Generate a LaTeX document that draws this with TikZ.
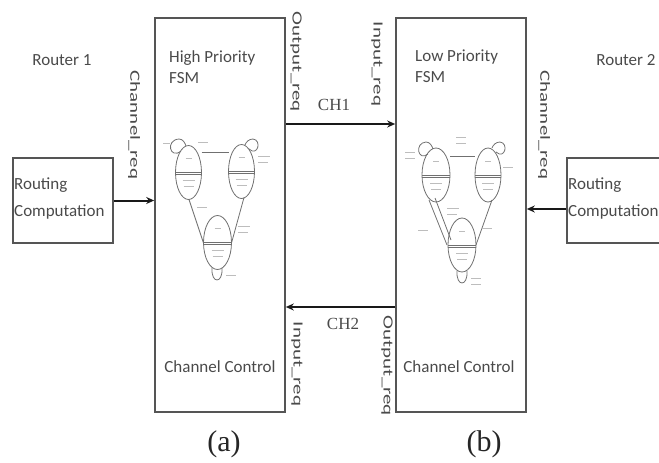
\documentclass[tikz,border=0pt]{standalone}
\usepackage{fontspec}
\setmainfont{Carlito}
\newfontfamily\tms{Liberation Serif}
\usetikzlibrary{arrows.meta,calc}
\definecolor{txt}{HTML}{4A4A4A}
\definecolor{frame}{HTML}{555555}
\definecolor{fsm}{HTML}{707070}
\definecolor{tiny}{HTML}{BDBDBD}
\tikzset{
  boxnode/.style={draw=frame,line width=1.6pt,rectangle,inner sep=0pt},
  arr/.style={line width=2pt,black!90,-{Stealth[length=8pt,width=7pt]}},
  lbl/.style={text=txt,font=\fontsize{17}{21}\selectfont,inner sep=0pt},
  rlbl/.style={text=txt,font=\fontsize{14}{16}\selectfont,inner sep=0pt,rotate=-90},
  chl/.style={text=txt,font=\tms\fontsize{17}{20}\selectfont,inner sep=0pt},
  captxt/.style={text=black!85,font=\tms\fontsize{30}{34}\selectfont,inner sep=0pt},
  fsmline/.style={draw=fsm,line width=0.8pt},
  tinyline/.style={draw=tiny,line width=1pt},
}
\newcommand\mystate[3]{% center x, center y, rx
  \draw[fsmline] (#1,#2) ellipse [x radius=#3, y radius=27];
  \draw[fsmline] (#1-#3,#2) -- (#1+#3,#2);
  \draw[fsmline] (#1-#3+0.3,#2+2) -- (#1+#3-0.3,#2+2);
  \draw[tinyline] (#1-3,#2-14) -- (#1+3,#2-14);
  \draw[tinyline] (#1-6,#2+8) -- (#1+6,#2+8);
  \draw[tinyline] (#1-5,#2+14) -- (#1+5,#2+14);
}
\begin{document}
\begin{tikzpicture}[x=1pt,y=-1pt]
\useasboundingbox (0,0) rectangle (659,463);
\clip (0,0) rectangle (659,463);
% main boxes
\node[boxnode,minimum width=130pt,minimum height=394pt] (hp) at (220,215) {};
\node[boxnode,minimum width=130pt,minimum height=394pt] (lp) at (461,215) {};
\node[boxnode,minimum width=100pt,minimum height=85pt] (rc1) at (63,200.5) {};
\node[boxnode,minimum width=130pt,minimum height=85pt] (rc2) at (632,200.5) {};
% texts
\node[lbl] (r1) at (62,60) {Router 1};
\node[lbl] (r2) at (626,60) {Router 2};
\node[lbl,anchor=north west,align=left] (hpt) at (169,50) {High Priority\\FSM};
\node[lbl,anchor=north west,align=left] (lpt) at (415,50) {Low Priority\\FSM};
\node[lbl,anchor=west,align=left,font=\fontsize{17}{27}\selectfont] (rc1t) at (14,198) {Routing\\Computation};
\node[lbl,anchor=west,align=left,font=\fontsize{17}{27}\selectfont] (rc2t) at (568,198) {Routing\\Computation};
\node[lbl] (cc1) at (220,367) {Channel Control};
\node[lbl] (cc2) at (459,367) {Channel Control};
\node[rlbl] (chr1) at (134,125) {\scalebox{1.5}[1]{Channel\_req}};
\node[rlbl] (chr2) at (544,125) {\scalebox{1.5}[1]{Channel\_req}};
\node[rlbl] (or1) at (296,62) {\scalebox{1.5}[1]{Output\_req}};
\node[rlbl] (ir1) at (377,64) {\scalebox{1.5}[1]{Input\_req}};
\node[rlbl] (ir2) at (297,364) {\scalebox{1.5}[1]{Input\_req}};
\node[rlbl] (or2) at (387,366) {\scalebox{1.5}[1]{Output\_req}};
\node[chl] (ch1) at (334,105) {CH1};
\node[chl] (ch2) at (343,324) {CH2};
\node[captxt] (ca) at (224,444) {(a)};
\node[captxt] (cb) at (484,444) {(b)};
% arrows
\coordinate (ya) at (0,124);
\coordinate (yb) at (0,307);
\coordinate (yc) at (0,209);
\draw[arr] (rc1.east) -- (rc1.east -| hp.west);
\draw[arr] (rc2.west |- yc) -- (lp.east |- yc);
\draw[arr] (hp.east |- ya) -- (lp.west |- ya);
\draw[arr] (lp.west |- yb) -- (hp.east |- yb);
% left FSM
\mystate{188.5}{172.5}{13}
\mystate{241.5}{171.5}{13}
\mystate{217.5}{242.5}{14}
\draw[fsmline] (201.5,152.7) -- (228.5,152.7);
\draw[fsmline] (189,199.5) -- (203.5,243);
\draw[fsmline] (244,197.5) -- (231.5,243);
\draw[fsmline] (181,151) .. controls (170,160) and (165,140) .. (179,139) .. controls (183,139) and (185,143) .. (186,146);
\draw[fsmline] (249,149) .. controls (258,157) and (262,140) .. (253,139) .. controls (249,139) and (246,142) .. (245,145);
\draw[fsmline] (212,268) .. controls (211,284) and (223,284) .. (222,268);
\draw[tinyline] (163,143) -- (170,143);
\draw[tinyline] (198,142) -- (208,142);
\draw[tinyline] (258,156) -- (270,156);
\draw[tinyline] (258,162) -- (268,162);
\draw[tinyline] (197,207) -- (207,207);
\draw[tinyline] (238,226) -- (250,226);
\draw[tinyline] (238,232) -- (248,232);
\draw[tinyline] (226,275) -- (236,275);
% right FSM
\mystate{436}{175}{14}
\mystate{488}{175}{13}
\mystate{462}{245}{14}
\draw[fsmline] (450,156) -- (475,156);
\draw[fsmline] (429,200) -- (447,245);
\draw[fsmline] (435,198) -- (451,240);
\draw[fsmline] (492,200) -- (476,245);
\draw[fsmline] (428,154) .. controls (418,162) and (414,143) .. (426,142) .. controls (430,142) and (432,146) .. (433,149);
\draw[fsmline] (496,152) .. controls (505,160) and (509,143) .. (500,142) .. controls (496,142) and (493,145) .. (492,148);
\draw[fsmline] (457,271) .. controls (456,287) and (468,287) .. (467,271);
\draw[tinyline] (405,152) -- (415,152);
\draw[tinyline] (405,158) -- (415,158);
\draw[tinyline] (456,137) -- (466,137);
\draw[tinyline] (456,143) -- (466,143);
\draw[tinyline] (503,167) -- (513,167);
\draw[tinyline] (447,208) -- (459,208);
\draw[tinyline] (447,214) -- (457,214);
\draw[tinyline] (418,230) -- (428,230);
\draw[tinyline] (482,228) -- (492,228);
\draw[tinyline] (471,278) -- (481,278);
\draw[tinyline] (471,284) -- (481,284);
\end{tikzpicture}
\end{document}
